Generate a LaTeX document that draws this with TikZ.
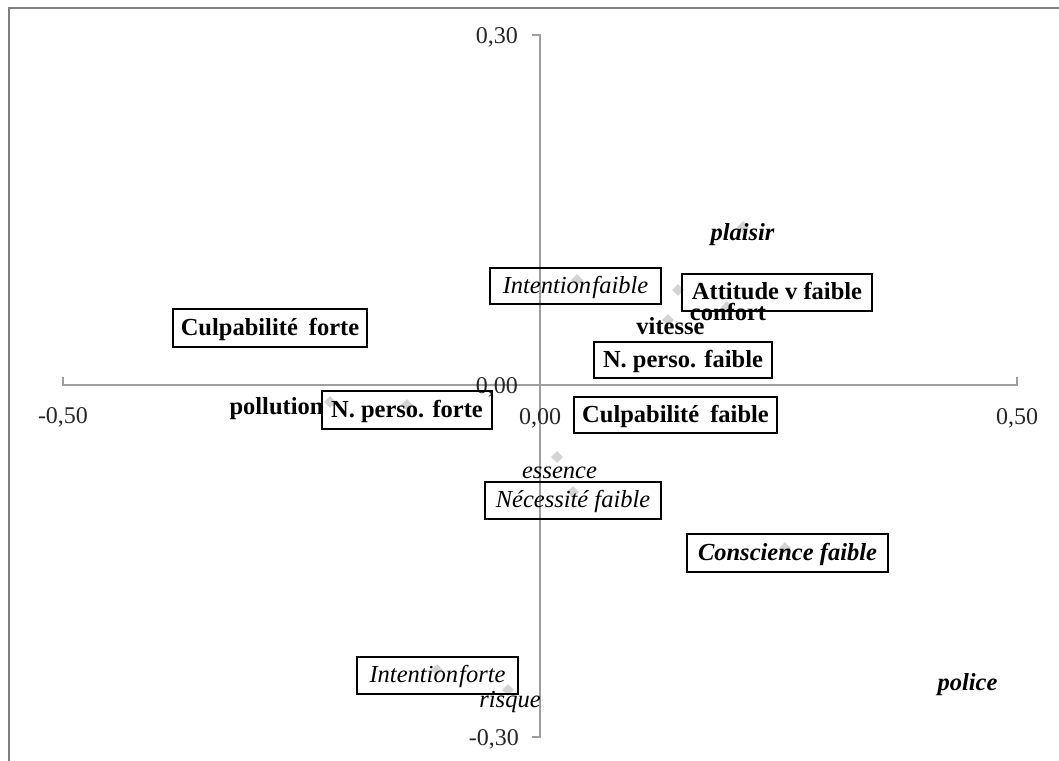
\documentclass[tikz,border=0pt]{standalone}
\usepackage{fontspec}
\setmainfont{Liberation Serif}
\usetikzlibrary{shapes.geometric}
\begin{document}
\begin{tikzpicture}[x=1pt,y=-1pt,
  lbl/.style={font=\fontsize{24.5}{28}\selectfont, inner sep=0pt, text height=18pt, text depth=4pt},
  boxed/.style={lbl, draw=black, line width=1.8pt},
  tick/.style={font=\fontsize{24}{28}\selectfont, inner sep=0pt, text=black!85},
  mk/.style={diamond, fill=black!17, minimum size=12pt, inner sep=0pt},
  axisline/.style={draw=black!38, line width=1.3pt},
  framel/.style={draw=black!50, line width=2pt}]
\useasboundingbox (0,0) rectangle (1059,760);
% frame
\coordinate (fa) at (9,800);
\coordinate (fb) at (9,8);
\coordinate (fc) at (1100,8);
\draw[framel] (fa) -- (fb) -- (fc);
% axes
\coordinate (xl) at (63,385);
\coordinate (xr) at (1017,385);
\coordinate (yt) at (540,35);
\coordinate (yb) at (540,737);
\draw[axisline] ([yshift=8pt]xl) -- (xl) -- (xr) -- ([yshift=8pt]xr);
\draw[axisline] ([xshift=-8pt]yt) -- (yt) -- (yb) -- ([xshift=-8pt]yb);
% tick labels
\node[tick, anchor=base east] (t030) at (518,44) {0,30};
\node[tick, anchor=base east] (tm030) at (519,745) {-0,30};
\node[tick, anchor=base east] (t000y) at (518,393) {0,00};
\node[tick, anchor=base] (tm050) at (63,423) {-0,50};
\node[tick, anchor=base] (t050) at (1017,424) {0,50};
\node[tick, anchor=base] (t000x) at (540,424) {0,00};
% markers
\node[mk] (m1) at (743,227) {};
\node[mk] (m2) at (577,280) {};
\node[mk] (m3) at (678,290) {};
\node[mk] (m4) at (727,307) {};
\node[mk] (m5) at (668,320) {};
\node[mk] (m6) at (330,402) {};
\node[mk] (m7) at (407,405) {};
\node[mk] (m8) at (557,457) {};
\node[mk] (m9) at (573,492) {};
\node[mk] (m10) at (785,548) {};
\node[mk] (m11) at (437,670) {};
\node[mk] (m12) at (508,690) {};
% boxed labels
\node[boxed, minimum width=171pt, minimum height=36pt] (b1) at (575.5,286) {\itshape Intention\hspace{0.05em}faible};
\node[boxed, minimum width=190pt, minimum height=37pt] (b2) at (777,292.5) {\bfseries Attitude v faible};
\node[boxed, minimum width=178pt, minimum height=36pt] (b3) at (683,360) {\bfseries N. perso. faible};
\node[boxed, minimum width=203pt, minimum height=36pt] (b4) at (675.5,415) {\bfseries Culpabilité\hspace{0.45em}faible};
\node[boxed, minimum width=194pt, minimum height=38pt] (b5) at (270,328) {\bfseries Culpabilité\hspace{0.45em}forte};
\node[boxed, minimum width=170pt, minimum height=38pt] (b6) at (407,410) {\bfseries N. perso. forte};
\node[boxed, minimum width=176pt, minimum height=37pt] (b7) at (573,500.5) {\itshape Nécessité faible};
\node[boxed, minimum width=201pt, minimum height=38pt] (b8) at (787.5,553) {\bfseries\itshape Conscience faible};
\node[boxed, minimum width=161pt, minimum height=37pt] (b9) at (437.5,675.5) {\itshape Intention\hspace{0.05em}forte};
% free labels
\node[lbl] (l1) at (742.5,233) {\bfseries\itshape plaisir};
\node[lbl] (l2) at (728,313) {\bfseries confort};
\node[lbl] (l3) at (670.5,327) {\bfseries vitesse};
\node[lbl] (l4) at (276.5,407) {\bfseries pollution};
\node[lbl] (l5) at (559.5,471) {\itshape essence};
\node[lbl] (l6) at (510,700) {\itshape risque};
\node[lbl] (l7) at (967.5,683) {\bfseries\itshape police};
\end{tikzpicture}
\end{document}
